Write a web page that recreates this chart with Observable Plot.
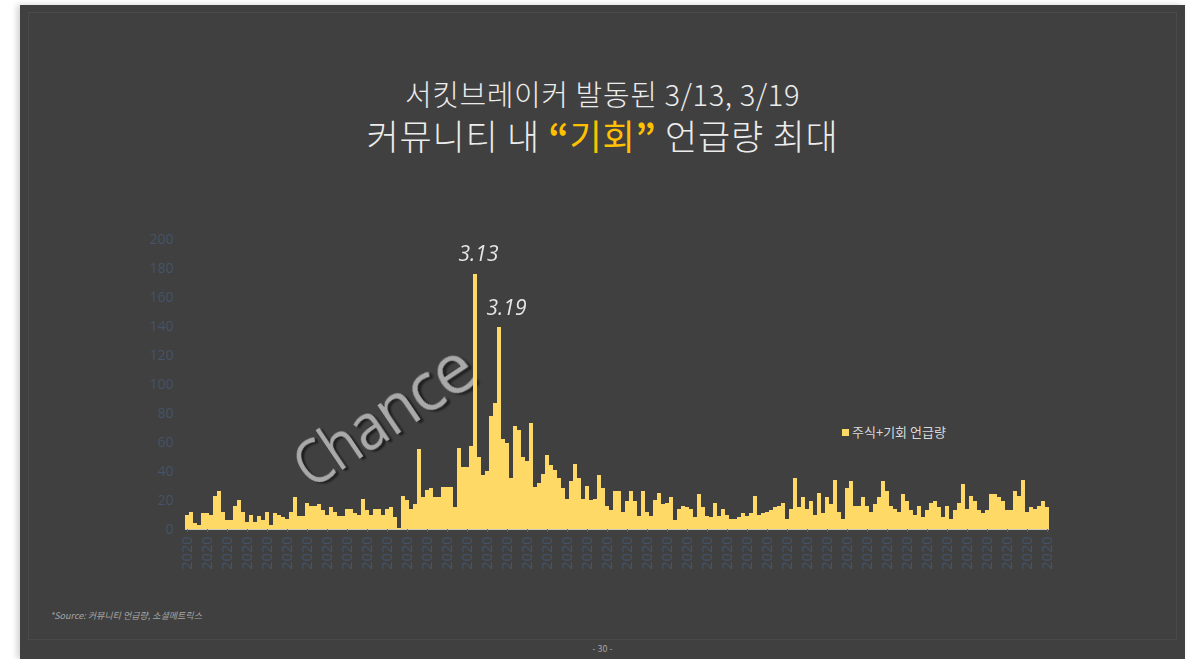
<!DOCTYPE html>
<html>
<head>
<meta charset="utf-8">
<script src="https://cdn.jsdelivr.net/npm/d3@7"></script>
<script src="https://cdn.jsdelivr.net/npm/@observablehq/plot@0.6"></script>
<style>
  body { margin:0; background:#ffffff; width:1196px; height:659px; overflow:hidden; position:relative; font-family:"Noto Sans CJK KR","Noto Sans",sans-serif; }
  #slide { position:absolute; left:20px; top:5px; width:1165px; height:654px; background:#404040; box-shadow:-3px 0 6px rgba(0,0,0,0.18); }
  #frame { position:absolute; left:8px; top:7px; width:1147px; height:626px; border:1px solid #4a4a4a; }
  .title { position:absolute; left:20px; width:1165px; text-align:center; color:#ececec; white-space:nowrap; font-weight:300; }
  #t1 { top:75px; font-size:29px; line-height:36px; letter-spacing:0.6px; }
  #t2 { top:113px; font-size:35px; line-height:44px; letter-spacing:0.8px; }
  #t2 .hl { color:#ffc000; font-weight:400; }
  #t2 .q { font-weight:700; }
  #chance { position:absolute; left:375px; top:419px; transform:translate(-50%,-50%) rotate(-34deg) perspective(500px) rotateY(-22deg); font-family:"Open Sans",sans-serif; font-size:65px; color:#a9a9a9; text-shadow:2px 3px 2px rgba(0,0,0,0.55); white-space:nowrap; letter-spacing:-1.5px; }
  #legend { position:absolute; left:842px; top:423px; font-size:13px; color:#d9d9d9; line-height:18px; white-space:nowrap; }
  #legend span.sw { display:inline-block; width:7px; height:7px; background:#FFD966; margin-right:3px; vertical-align:1px; }
  #source { position:absolute; left:50px; top:609px; font-size:9px; font-style:italic; color:#a6a6a6; white-space:nowrap; }
  #page { position:absolute; left:20px; width:1165px; top:642px; text-align:center; font-size:9px; color:#a6a6a6; }
  #chart { position:absolute; left:0; top:200px; }
</style>
</head>
<body>
<div id="slide"><div id="frame"></div></div>
<div class="title" id="t1">서킷브레이커 발동된 3/13, 3/19</div>
<div class="title" id="t2">커뮤니티 내 <span class="hl"><span class="q">“</span>기회<span class="q">”</span></span> 언급량 최대</div>
<div id="chance">Chance</div>
<div id="legend"><span class="sw"></span>주식+기회 언급량</div>
<div id="source">*Source: 커뮤니티 언급량, 소셜메트릭스</div>
<div id="page">- 30 -</div>
<div id="chart"></div>
<script>
// Daily mentions starting 2020-01-01
const startDate = "2020-01-01";
const values = [
  10,12,4,3,11,11,10,23,26,12,
  6,6,16,20,12,5,10,5,9,6,
  12,3,11,10,8,7,12,22,9,9,
  18,16,16,17,13,10,15,12,9,9,
  14,14,11,10,21,13,10,14,14,10,
  14,15,8,1,23,20,14,17,55,22,
  27,28,22,22,29,29,29,15,56,43,
  43,57,176,50,37,40,78,87,139,62,
  59,35,71,68,50,47,73,29,32,38,
  51,44,41,35,28,21,33,45,35,21,
  30,20,21,37,28,16,13,26,26,12,
  19,26,19,9,26,12,9,20,25,17,
  18,22,6,14,16,15,14,8,24,15,
  9,8,18,9,14,10,7,7,8,11,
  9,11,23,10,11,12,13,15,16,18,
  7,14,35,15,22,14,19,10,25,11,
  22,17,34,12,7,28,33,16,16,22,
  16,12,17,22,33,26,16,14,12,24,
  19,13,10,16,8,13,18,19,15,8,
  16,7,13,18,31,14,23,19,13,11,
  13,24,24,22,19,13,13,26,23,34,
  12,15,14,16,19,15
];
const yTicks = [0,20,40,60,80,100,120,140,160,180,200];
const tickEvery = 5;
const annotationDates = ["2020-03-13","2020-03-19"];
const annotationLabels = ["3.13","3.19"];
const annotationDx = [3, 7];

const start = new Date(startDate + "T00:00:00Z");
const dates = d3.utcDay.range(start, d3.utcDay.offset(start, values.length));
const data = values.map((v, i) => ({date: dates[i], value: v}));
const tickDates = dates.filter((d, i) => i % tickEvery === 0);
const annotations = annotationDates.map((s, k) => {
  const d = new Date(s + "T00:00:00Z");
  const idx = dates.findIndex(x => +x === +d);
  return {date: dates[idx], value: values[idx], label: annotationLabels[k], dx: annotationDx[k]};
});

const chart = Plot.plot({
  width: 1196,
  height: 400,
  marginTop: 39,
  marginBottom: 71,
  marginLeft: 185,
  marginRight: 147,
  style: {background: "transparent", fontFamily: "'Open Sans', sans-serif", overflow: "visible"},
  x: {type: "band", domain: dates, padding: 0},
  y: {domain: [0, 200]},
  marks: [
    Plot.barY(data, {x: "date", y: "value", fill: "#FFD966", inset: 0, shapeRendering: "crispEdges"}),
    Plot.ruleY([0], {stroke: "#cfc9b8", strokeWidth: 1.2}),
    Plot.axisY({ticks: yTicks, tickSize: 0, tickPadding: 12, fontSize: 14, fill: "#44546a", label: null}),
    Plot.axisX({ticks: tickDates, tickFormat: d3.utcFormat("%Y"), tickRotate: -90, tickSize: 3, tickPadding: 4, stroke: "#5a6475", fill: "#44546a", fontSize: 14.5, label: null}),
    ...annotations.map(a => Plot.text([a], {x: "date", y: "value", text: "label", dy: -20, dx: a.dx, fontSize: 21, fontStyle: "italic", fill: "#e6e6e6"}))
  ]
});
document.getElementById("chart").appendChild(chart);
</script>
</body>
</html>
